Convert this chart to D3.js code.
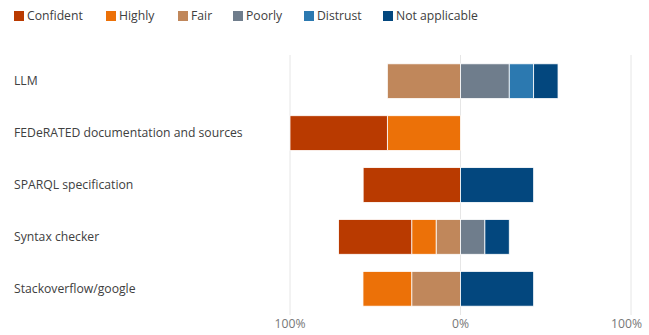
<!DOCTYPE html>
<html><head><meta charset="utf-8">
<script src="https://cdn.jsdelivr.net/npm/d3@7"></script>
<style>body{margin:0;background:#fff;} svg{display:block;font-family:"Open Sans","Noto Sans",sans-serif;}</style>
</head><body>
<svg id="c" width="649" height="335"></svg>
<script>
const categories = ["LLM","FEDeRATED documentation and sources","SPARQL specification","Syntax checker","Stackoverflow/google"];
const seriesNames = ["Confident","Highly","Fair","Poorly","Distrust","Not applicable"];
const seriesColors = ["#B93A00","#EC7108","#C0875B","#6F7D8C","#2C79B0","#03477E"];
const negativeSeries = ["Confident","Highly","Fair"];
const confident = [0, 57.1, 57.1, 42.9, 0];
const highly = [0, 42.9, 0, 14.3, 28.6];
const fair = [42.9, 0, 0, 14.3, 28.6];
const poorly = [28.6, 0, 0, 14.3, 0];
const distrust = [14.3, 0, 0, 0, 0];
const notApplicable = [14.3, 0, 42.9, 14.3, 42.9];
const tickValues = [-100, 0, 100];
const tickLabels = ["100%","0%","100%"];

const values = [confident, highly, fair, poorly, distrust, notApplicable];
const svg = d3.select("#c");
const x = d3.scaleLinear().domain([-100,100]).range([290,631]);
const y = d3.scaleBand().domain(categories).range([55,315]).paddingInner(0.33).paddingOuter(0.17);

// gridlines
svg.append("g").selectAll("line").data(tickValues).join("line")
  .attr("x1",d=>x(d)).attr("x2",d=>x(d)).attr("y1",55).attr("y2",315)
  .attr("stroke","#e6e6e6").attr("stroke-width",1);

// segments
const segs = [];
categories.forEach((c,i)=>{
  let neg = 0;
  for (let s = negativeSeries.length-1; s>=0; s--) {
    const v = values[s][i];
    if (v>0) segs.push({c, s, x0: -(neg+v), x1: -neg});
    neg += v;
  }
  let pos = 0;
  for (let s = negativeSeries.length; s<seriesNames.length; s++) {
    const v = values[s][i];
    if (v>0) segs.push({c, s, x0: pos, x1: pos+v});
    pos += v;
  }
});
svg.append("g").selectAll("rect").data(segs).join("rect")
  .attr("x",d=>x(d.x0)).attr("width",d=>x(d.x1)-x(d.x0))
  .attr("y",d=>y(d.c)).attr("height",y.bandwidth())
  .attr("fill",d=>seriesColors[d.s]).attr("stroke","#fff").attr("stroke-width",0.8);

// category labels
svg.append("g").selectAll("text").data(categories).join("text")
  .attr("x",14).attr("y",d=>y(d)+y.bandwidth()/2).attr("dy","0.35em")
  .attr("font-size",12.2).attr("fill","#404040").text(d=>d);

// axis labels
svg.append("g").selectAll("text").data(tickValues).join("text")
  .attr("x",(d,i)=> i===2 ? 642 : x(d)).attr("y",324).attr("dy","0.35em")
  .attr("text-anchor",(d,i)=> i===2 ? "end" : "middle")
  .attr("font-size",12.2).attr("fill","#777").text((d,i)=>tickLabels[i]);

// legend
const legX = [27,119,191,246,317,396];
const lg = svg.append("g").selectAll("g").data(seriesNames).join("g")
  .attr("transform",(d,i)=>`translate(${legX[i]},16)`);
lg.append("rect").attr("x",-13).attr("y",-5).attr("width",10).attr("height",10).attr("fill",(d,i)=>seriesColors[i]);
lg.append("text").attr("x",0).attr("dy","0.35em").attr("font-size",12.2).attr("fill","#404040").text(d=>d);
</script>
</body></html>
